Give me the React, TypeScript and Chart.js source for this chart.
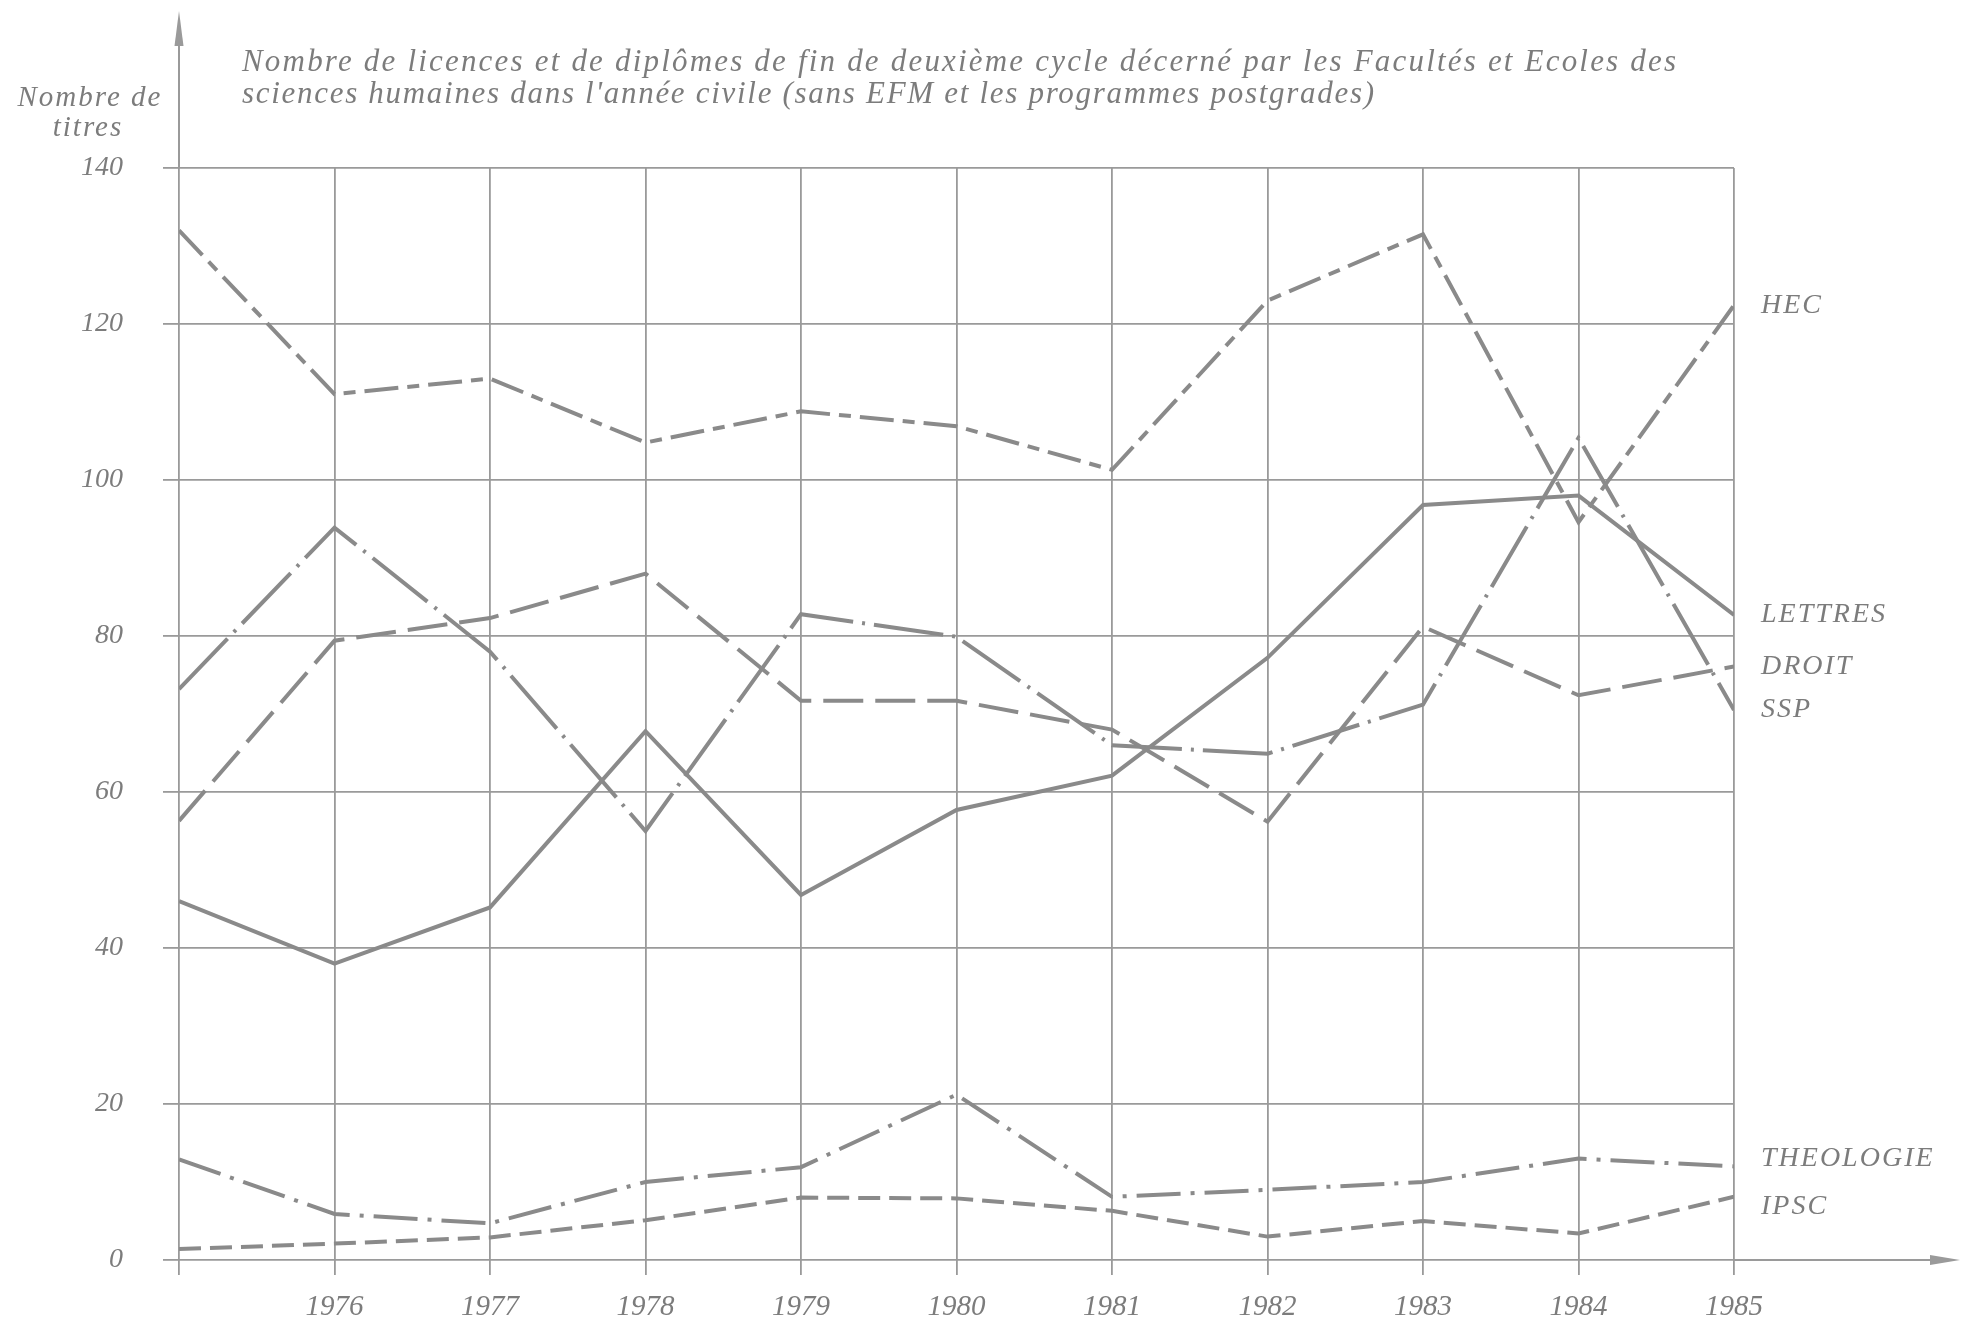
import React, { useEffect, useRef } from "react";
import { Chart, registerables } from "chart.js";

Chart.register(...registerables);

// ---------- data ----------
const years = [1975, 1976, 1977, 1978, 1979, 1980, 1981, 1982, 1983, 1984, 1985];
const yTickValues = [0, 20, 40, 60, 80, 100, 120, 140];
const seriesNames = ["HEC", "LETTRES", "DROIT", "SSP", "THEOLOGIE", "IPSC"];

const hec = [132, 111, 113, 104.8, 108.8, 106.9, 101.3, 123, 131.5, 94.6, 122.4];
const lettres = [46, 38, 45.2, 67.8, 46.8, 57.7, 62.1, 77.2, 96.8, 98, 82.7];
const droit = [56.3, 79.4, 82.3, 88, 71.7, 71.7, 68, 56.2, 81.2, 72.4, 76.1];
const ssp = [73.2, 93.9, 78, 55, 82.8, 79.9, 66, 64.9, 71.2, 105.4, 70.5];
const theologie = [12.9, 5.9, 4.7, 10, 11.9, 21.2, 8.1, 9, 10, 13, 12];
const ipsc = [1.4, 2.1, 2.9, 5.1, 8, 7.9, 6.3, 3, 5, 3.4, 8.1];

const titleLines = [
  "Nombre de licences et de diplômes de fin de deuxième cycle décerné par les Facultés et Ecoles des",
  "sciences humaines dans l'année civile (sans EFM et les programmes postgrades)",
];
const yAxisTitle = ["Nombre de", "titres"];

// ---------- styles ----------
const W = 1968;
const H = 1323;
const FONT = "'Liberation Serif', 'DejaVu Serif', serif";
const LINE_COLOR = "#8a8a8a";
const GRID_COLOR = "#9a9a9a";
const TEXT_COLOR = "#7c7c7c";

const seriesValues = [hec, lettres, droit, ssp, theologie, ipsc];
const seriesDash = [
  [34, 9, 12, 9],
  [],
  [40, 12],
  [70, 9, 3, 9],
  [44, 10, 4, 10],
  [22, 9],
];
const labelOffsets = [0, 0, 0, 0, -8, 10];

const decorPlugin = {
  id: "decor",
  afterDraw(chart: any) {
    const { ctx, chartArea, scales } = chart;
    const x0 = scales.x.getPixelForValue(years[0]);
    const y0 = scales.y.getPixelForValue(0);
    ctx.save();
    ctx.strokeStyle = GRID_COLOR;
    ctx.fillStyle = GRID_COLOR;
    ctx.lineWidth = 2;
    // y axis extension + arrow
    ctx.beginPath();
    ctx.moveTo(x0, chartArea.top);
    ctx.lineTo(x0, 30);
    ctx.stroke();
    ctx.beginPath();
    ctx.moveTo(x0, 11);
    ctx.lineTo(x0 - 4.5, 46);
    ctx.lineTo(x0 + 4.5, 46);
    ctx.closePath();
    ctx.fill();
    // x axis extension + arrow
    ctx.beginPath();
    ctx.moveTo(chartArea.right, y0);
    ctx.lineTo(1940, y0);
    ctx.stroke();
    ctx.beginPath();
    ctx.moveTo(1960, y0);
    ctx.lineTo(1930, y0 - 5);
    ctx.lineTo(1930, y0 + 5);
    ctx.closePath();
    ctx.fill();

    // title
    ctx.fillStyle = TEXT_COLOR;
    ctx.font = `italic 31px ${FONT}`;
    ctx.textBaseline = "middle";
    ctx.textAlign = "left";
    const titleTargets = [1434, 1132];
    const titleY = [63, 95];
    titleLines.forEach((t, i) => {
      (ctx as any).letterSpacing = "0px";
      const w = ctx.measureText(t).width;
      const ls = (titleTargets[i] - w) / (t.length - 1);
      (ctx as any).letterSpacing = `${ls}px`;
      ctx.fillText(t, 242, titleY[i]);
    });
    (ctx as any).letterSpacing = "0px";

    // y axis title
    ctx.textAlign = "center";
    ctx.font = `italic 29px ${FONT}`;
    (ctx as any).letterSpacing = "2px";
    ctx.fillText(yAxisTitle[0], 90, 98);
    ctx.fillText(yAxisTitle[1], 88, 128);

    // series labels
    ctx.textAlign = "left";
    ctx.font = `italic 28px ${FONT}`;
    (ctx as any).letterSpacing = "2px";
    seriesNames.forEach((name, i) => {
      const vals = seriesValues[i];
      const y = scales.y.getPixelForValue(vals[vals.length - 1]) + labelOffsets[i];
      ctx.fillText(name, 1761, y);
    });
    (ctx as any).letterSpacing = "0px";
    ctx.restore();
  },
};

export default function App() {
  const ref = useRef<HTMLCanvasElement | null>(null);
  useEffect(() => {
    if (!ref.current) return;
    const chart = new Chart(ref.current, {
      type: "line",
      data: {
        datasets: seriesNames.map((name, i) => ({
          label: name,
          data: years.map((yr, j) => ({ x: yr, y: seriesValues[i][j] })),
          borderColor: LINE_COLOR,
          borderWidth: 4,
          borderDash: seriesDash[i],
          borderCapStyle: "butt",
          borderJoinStyle: "miter",
          pointRadius: 0,
          tension: 0,
          fill: false,
        })),
      },
      options: {
        responsive: false,
        animation: false,
        events: [],
        layout: { padding: { left: 0, top: 168, right: 234, bottom: 0 } },
        plugins: { legend: { display: false }, tooltip: { enabled: false }, title: { display: false } },
        scales: {
          x: {
            type: "linear",
            min: years[0],
            max: years[years.length - 1],
            afterBuildTicks: (s: any) => {
              s.ticks = years.map((v) => ({ value: v }));
            },
            afterFit: (s: any) => {
              s.height = 63;
            },
            ticks: {
              autoSkip: false,
              maxRotation: 0,
              minRotation: 0,
              padding: 15,
              color: TEXT_COLOR,
              font: { family: FONT, size: 29, style: "italic" },
              callback: (v: any) => (v === years[0] ? "" : String(v)),
            },
            grid: { color: GRID_COLOR, lineWidth: 1.8, tickLength: 15, drawTicks: true },
            border: { display: false },
          },
          y: {
            type: "linear",
            min: 0,
            max: 140,
            afterBuildTicks: (s: any) => {
              s.ticks = yTickValues.map((v) => ({ value: v }));
            },
            afterFit: (s: any) => {
              s.width = 179;
            },
            ticks: {
              padding: 40,
              color: TEXT_COLOR,
              font: { family: FONT, size: 28, style: "italic" },
              callback: (v: any) => String(v),
            },
            grid: { color: GRID_COLOR, lineWidth: 1.8, tickLength: 16, drawTicks: true },
            border: { display: false },
          },
        },
      },
      plugins: [decorPlugin],
    } as any);
    return () => chart.destroy();
  }, []);

  return (
    <div style={{ position: "fixed", left: 0, top: 0, width: W, height: H, background: "#ffffff" }}>
      <canvas ref={ref} width={W} height={H} style={{ display: "block", width: W, height: H }} />
    </div>
  );
}
